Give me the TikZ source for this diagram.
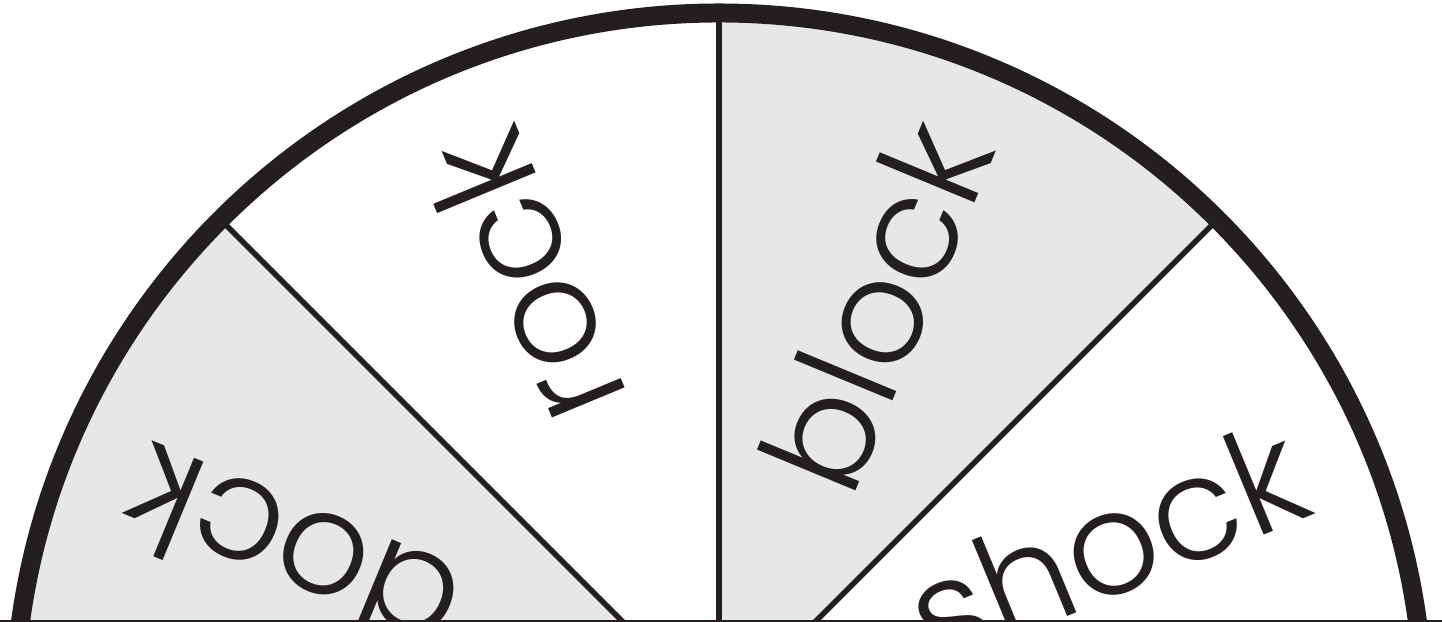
\documentclass[tikz,border=0pt]{standalone}
\usepackage{fontspec}
\setmainfont{Poppins Light}
\usetikzlibrary{positioning}
\definecolor{wheelgray}{HTML}{E6E7E8}
\definecolor{inkblack}{HTML}{231F20}

\begin{document}
\begin{tikzpicture}[
    word/.style={rotate=#1, anchor=east, inner sep=0pt, text height=0.79cm,
      text depth=0pt, text=inkblack, font=\fontsize{41}{42}\selectfont},
    spoke/.style={draw=inkblack, line width=1.55pt},
    rim/.style={draw=inkblack, line width=5.4pt}]
  \useasboundingbox (-7.19, 0.96) rectangle (7.23, 7.18);
  \clip (-7.19, 0.96) rectangle (7.23, 7.18);

  \coordinate (O) at (0.00, 0.00);
  \coordinate (R0) at (0:7.05);
  \coordinate (R1) at (45:7.05);
  \coordinate (R2) at (90:7.05);
  \coordinate (R3) at (135:7.05);
  \coordinate (R4) at (180:7.05);
  \coordinate (BL) at (-7.19, 0.972);
  \coordinate (BR) at (7.23, 0.972);

  % shaded sectors
  \fill[wheelgray] (O) -- (R3) arc (135:180:7.05) -- cycle;
  \fill[wheelgray] (O) -- (R1) arc (45:90:7.05) -- cycle;

  \draw[spoke] (O) -- (R1);
  \draw[spoke] (O) -- (R2);
  \draw[spoke] (O) -- (R3);
  \draw[rim] (R0) arc (0:180:7.05);

  \node[word=157.5] (dock) at (157.5:6.32) {dock};
  \node[word=112.5] (rock) at (112.5:6.32) {rock};
  \node[word=67.5] (block) at (67.5:6.32) {block};
  \node[word=22.5] (shock) at (22.5:6.32) {shock};

  \draw[inkblack, line width=0.7pt] (BL) -- (BR);
\end{tikzpicture}
\end{document}
